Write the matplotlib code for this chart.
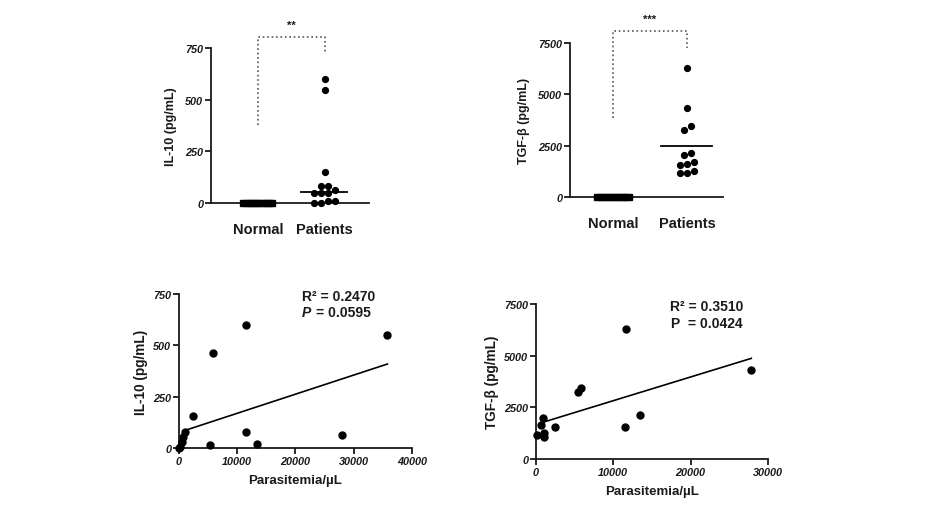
import numpy as np
import matplotlib
matplotlib.use('Agg')
import matplotlib.pyplot as plt

plt.rcParams['font.family'] = ['Liberation Sans', 'DejaVu Sans']
plt.rcParams['font.weight'] = 'bold'

# top panels: group dot plots
groups = ['Normal', 'Patients']
il10_normal = [0, 0, 0, 0, 0, 0, 0, 0, 0, 0]
il10_patients = [598, 547, 152, 81, 81, 63, 48, 48, 48, 11, 11, 0, 0]
il10_center = 52
tgf_normal = [0, 0, 0, 0, 0, 0, 0, 0, 0, 0]
tgf_patients = [6300, 4330, 3470, 3250, 2130, 2030, 1700, 1580, 1540, 1270, 1170, 1140]
tgf_center = 2500

# bottom panels: correlation with parasitemia
il10_para = [0, 170, 460, 740, 1030, 2400, 5300, 5900, 11500, 11500, 13400, 28000, 35800]
il10_level = [0, 5, 29, 54, 78, 155, 13, 465, 600, 78, 18, 65, 550]
il10_fit = (76, 0.0093)   # intercept, slope
il10_fit_range = (700, 35800)

tgf_para = [90, 600, 860, 1080, 1080, 2450, 5470, 5810, 11490, 11620, 13430, 27850]
tgf_level = [1160, 1660, 1970, 1260, 1080, 1530, 3230, 3440, 1530, 6290, 2130, 4310]
tgf_fit = (1675, 0.1147)
tgf_fit_range = (700, 27850)

TXT = '#1a1a1a'


# simple column-scatter layout: points with similar values share a row
def swarm_offsets(values, tol, step):
    values = np.asarray(values, dtype=float)
    order = np.argsort(values)
    offsets = np.zeros(len(values))
    rows, cur = [], [order[0]]
    for i in order[1:]:
        if values[i] - values[cur[0]] <= tol:
            cur.append(i)
        else:
            rows.append(cur)
            cur = [i]
    rows.append(cur)
    for row in rows:
        n = len(row)
        for k, i in enumerate(row):
            offsets[i] = (k - (n - 1) / 2) * step
    return offsets


def style_axes(ax):
    for s in ['top', 'right']:
        ax.spines[s].set_visible(False)
    for s in ['left', 'bottom']:
        ax.spines[s].set_linewidth(1.3)
        ax.spines[s].set_color(TXT)
    ax.tick_params(direction='out', length=4, width=1.3, color=TXT, labelsize=7.8, pad=1.5)
    for lab in ax.get_xticklabels() + ax.get_yticklabels():
        lab.set_fontstyle('italic')
        lab.set_fontweight('bold')
        lab.set_color(TXT)


def dot_panel(ax, normal, patients, center, ylim, yticks, ylabel, xlim,
              tol, step, nstep, bracket, stars):
    xn = 1 + swarm_offsets(normal, tol, nstep)
    xp = 2 + swarm_offsets(patients, tol, step)
    ax.plot(xn, normal, 's', color='black', ms=3.8, clip_on=False, zorder=3)
    ax.plot(xp, patients, 'o', color='black', ms=4.2, clip_on=False, zorder=3)
    ax.plot([1.65, 2.33], [center, center], color='black', lw=1.3)
    ax.set_xlim(*xlim)
    ax.set_ylim(*ylim)
    ax.set_yticks(yticks)
    ax.set_xticks([1, 2])
    ax.set_xticklabels(groups)
    style_axes(ax)
    ax.tick_params(axis='x', length=0, pad=14)
    for lab in ax.get_xticklabels():
        lab.set_fontstyle('normal')
        lab.set_fontsize(10.5)
    ax.set_ylabel(ylabel, fontsize=9, fontweight='bold', color=TXT, labelpad=6)
    top, left_low, right_low = bracket
    ax.plot([1, 1, 2, 2], [left_low, top, top, right_low], ':', color='#555555',
            lw=1.2, clip_on=False)
    ax.text(1.5, top + (ylim[1] - ylim[0]) * 0.045, stars, ha='center', va='bottom',
            fontsize=8, fontweight='bold', color=TXT, clip_on=False)


def corr_panel(ax, x, y, fit, fit_range, xlim, ylim, xticks, yticks, ylabel,
               r2_text, p_label, p_text, p_italic, tx):
    ax.plot(x, y, 'o', color='black', ms=5, clip_on=False, zorder=3)
    fx = np.array(fit_range)
    ax.plot(fx, fit[0] + fit[1] * fx, color='black', lw=1.2)
    ax.set_xlim(*xlim)
    ax.set_ylim(*ylim)
    ax.set_xticks(xticks)
    ax.set_yticks(yticks)
    style_axes(ax)
    ax.set_xlabel('Parasitemia/µL', fontsize=9.5, fontweight='bold', color=TXT, labelpad=6)
    ax.set_ylabel(ylabel, fontsize=9.8, fontweight='bold', color=TXT, labelpad=4)
    ax.text(tx, 0.99, r2_text, transform=ax.transAxes, ha='left', va='center',
            fontsize=10, fontweight='bold', color=TXT)
    ax.text(tx, 0.88, p_label, transform=ax.transAxes, ha='left', va='center',
            fontsize=10, fontweight='bold', color=TXT,
            fontstyle='italic' if p_italic else 'normal')
    ax.text(tx + 0.06, 0.88, p_text, transform=ax.transAxes, ha='left', va='center',
            fontsize=10, fontweight='bold', color=TXT)


fig = plt.figure(figsize=(9.39, 5.10), dpi=100)

ax1 = fig.add_axes([0.2247, 0.600, 0.168, 0.304])
dot_panel(ax1, il10_normal, il10_patients, il10_center, (0, 750), [0, 250, 500, 750],
          'IL-10 (pg/mL)', (0.298, 2.662), 20, 0.105, 0.048, (803, 377, 721), '**')

ax2 = fig.add_axes([0.607, 0.612, 0.163, 0.302])
dot_panel(ax2, tgf_normal, tgf_patients, tgf_center, (0, 7500), [0, 2500, 5000, 7500],
          'TGF-β (pg/mL)', (0.419, 2.485), 250, 0.095, 0.047, (8100, 3850, 7250), '***')

ax3 = fig.add_axes([0.1906, 0.1196, 0.248, 0.302])
corr_panel(ax3, il10_para, il10_level, il10_fit, il10_fit_range, (0, 40000), (0, 750),
           [0, 10000, 20000, 30000, 40000], [0, 250, 500, 750], 'IL-10 (pg/mL)',
           'R² = 0.2470', 'P', '= 0.0595', True, 0.528)

ax4 = fig.add_axes([0.5708, 0.098, 0.247, 0.304])
corr_panel(ax4, tgf_para, tgf_level, tgf_fit, tgf_fit_range, (0, 30000), (0, 7500),
           [0, 10000, 20000, 30000], [0, 2500, 5000, 7500], 'TGF-β (pg/mL)',
           'R² = 0.3510', 'P', ' = 0.0424', False, 0.578)

fig.savefig('out.png', dpi=100)
